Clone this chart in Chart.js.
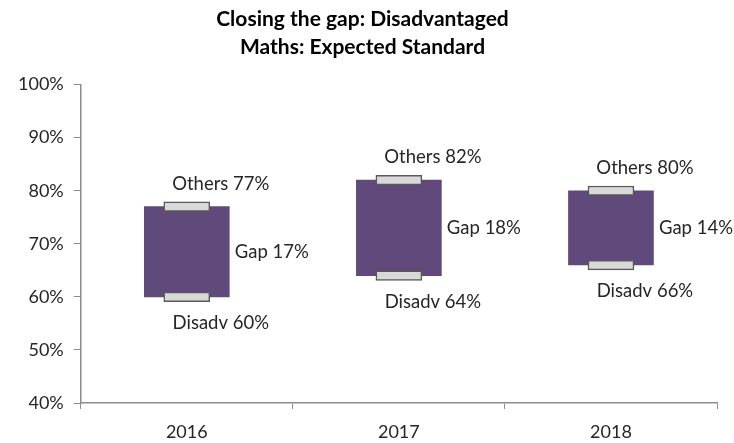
<!DOCTYPE html>
<html>
<head>
<meta charset="utf-8">
<script src="https://cdn.jsdelivr.net/npm/chart.js@4"></script>
<style>
  html, body { margin: 0; padding: 0; background: #fff; }
  #wrap { width: 734px; height: 443px; }
</style>
</head>
<body>
<div id="wrap"><canvas id="gapChart"></canvas></div>
<script>
// Chart data
const years = ['2016', '2017', '2018'];
const others = [77, 82, 80];
const disadv = [60, 64, 66];
const gap = [17, 18, 14];
const yTicks = [40, 50, 60, 70, 80, 90, 100];

const fontFamily = 'Lato, "Open Sans", sans-serif';
const textColor = '#262626';
const axisColor = '#8c8c8c';

// small marker caps on the top and bottom of each bar
const capHalf = 0.9;
const capRange = v => [v - capHalf, v + capHalf];

// labels next to each bar
const gapLabels = {
    id: 'gapLabels',
    afterDatasetsDraw(chart) {
        const ctx = chart.ctx;
        const xs = chart.scales.x;
        const ys = chart.scales.y;
        ctx.save();
        ctx.font = '18.5px ' + fontFamily;
        ctx.fillStyle = textColor;
        ctx.textBaseline = 'middle';
        years.forEach(function (yr, i) {
            const x = xs.getPixelForValue(i);
            const yTop = ys.getPixelForValue(others[i]);
            const yBot = ys.getPixelForValue(disadv[i]);
            ctx.textAlign = 'center';
            ctx.fillText('Others ' + others[i] + '%', x + 34, yTop - 23);
            ctx.fillText('Disadv ' + disadv[i] + '%', x + 34, yBot + 26);
            ctx.textAlign = 'left';
            ctx.fillText('Gap ' + gap[i] + '%', x + 48, (yTop + yBot) / 2);
        });
        ctx.restore();
    }
};

const ctx = document.getElementById('gapChart').getContext('2d');
new Chart(ctx, {
    type: 'bar',
    data: {
        labels: years,
        datasets: [
            {
                label: 'Gap',
                data: disadv.map((d, i) => [d, others[i]]),
                backgroundColor: '#5f4a7b',
                barThickness: 85,
                grouped: false,
                order: 2
            },
            {
                label: 'Others',
                data: others.map(capRange),
                backgroundColor: '#d9d9d9',
                borderColor: '#595959',
                borderWidth: 1.5,
                borderSkipped: false,
                barThickness: 46,
                grouped: false,
                order: 1
            },
            {
                label: 'Disadv',
                data: disadv.map(capRange),
                backgroundColor: '#d9d9d9',
                borderColor: '#595959',
                borderWidth: 1.5,
                borderSkipped: false,
                barThickness: 46,
                grouped: false,
                order: 1
            }
        ]
    },
    options: {
        responsive: true,
        maintainAspectRatio: false,
        animation: false,
        layout: { padding: { left: 8, right: 17, top: 2, bottom: 0 } },
        plugins: {
            legend: { display: false },
            tooltip: { enabled: false },
            title: {
                display: true,
                text: ['Closing the gap: Disadvantaged', 'Maths: Expected Standard'],
                color: '#000',
                font: { family: fontFamily, size: 21, weight: 'bold', lineHeight: 1.3 },
                padding: { top: 4, bottom: 24 }
            }
        },
        scales: {
            x: {
                afterFit: s => { s.height = 40; },
                grid: { drawOnChartArea: false, color: axisColor, tickLength: 6, offset: true },
                border: { color: axisColor, width: 1.5 },
                ticks: { color: textColor, font: { family: fontFamily, size: 18 }, padding: 12 }
            },
            y: {
                min: 40,
                max: 100,
                afterBuildTicks: axis => { axis.ticks = yTicks.map(v => ({ value: v })); },
                grid: { drawOnChartArea: false, color: axisColor, tickLength: 7 },
                border: { color: axisColor, width: 1.5 },
                ticks: {
                    color: textColor,
                    font: { family: fontFamily, size: 18 },
                    padding: 10,
                    callback: v => v + '%'
                }
            }
        }
    },
    plugins: [gapLabels]
});
</script>
</body>
</html>
